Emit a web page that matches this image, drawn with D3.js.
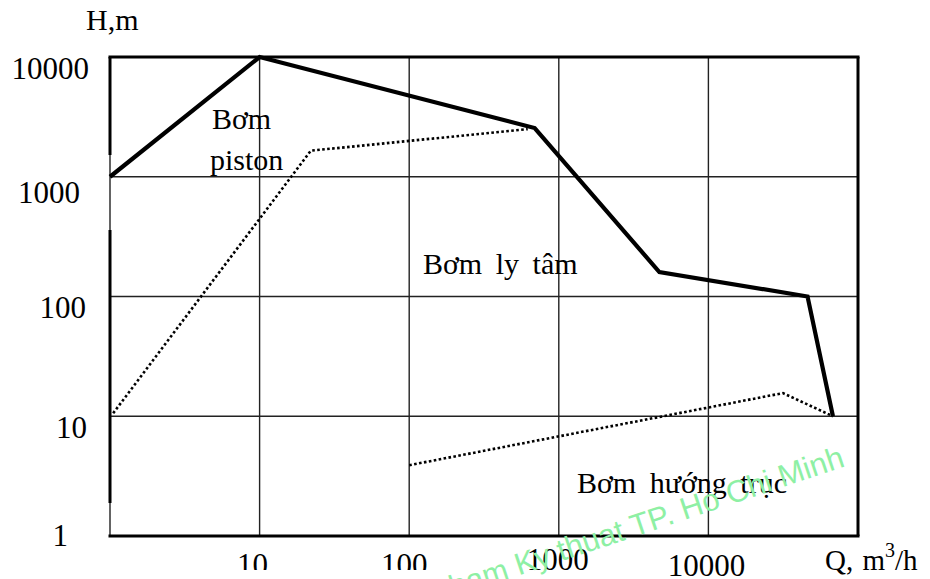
<!DOCTYPE html>
<html>
<head>
<meta charset="utf-8">
<script src="https://cdn.jsdelivr.net/npm/d3@7"></script>
<style>
  body { margin: 0; background: #fff; }
  text { font-family: "Liberation Serif", "Times New Roman", serif; fill: #000; }
</style>
</head>
<body>
<script>
// ticks on both log axes
var qTicks = [10, 100, 1000, 10000];
var hTicks = [1, 10, 100, 1000, 10000];

// outer limit line (solid)
var limitQ = [1, 10, 690, 4700, 46000, 68000];
var limitH = [1000, 10000, 2550, 160, 100, 10];

// piston pump / centrifugal boundary (dotted)
var pistonQ = [1.05, 22, 620];
var pistonH = [10.6, 1650, 2500];

// axial pump / centrifugal boundary (dotted)
var axialQ = [100, 31500, 68000];
var axialH = [3.9, 15.6, 10];

var w = 930;
var h = 579;
var pL = 110, pR = 858, pT = 57, pB = 536;

var svg = d3.select("body")
	.append("svg")
	.attr("width", w)
	.attr("height", h);

var x = d3.scaleLog().domain([1, 1e5]).range([pL, pR]);
var y = d3.scaleLog().domain([1, 1e4]).range([pB, pT]);

// grid
svg.selectAll("line.vgrid")
	.data([1].concat(qTicks))
	.enter()
	.append("line")
	.attr("x1", function(d) { return x(d); })
	.attr("x2", function(d) { return x(d); })
	.attr("y1", pT)
	.attr("y2", pB)
	.attr("stroke", "#222")
	.attr("stroke-width", 1.4);

svg.selectAll("line.hgrid")
	.data([10, 100, 1000])
	.enter()
	.append("line")
	.attr("x1", pL)
	.attr("x2", pR)
	.attr("y1", function(d) { return y(d); })
	.attr("y2", function(d) { return y(d); })
	.attr("stroke", "#222")
	.attr("stroke-width", 1.4);

// frame: top, bottom, right thick; left thick with two breaks
var frame = [
	[pL - 1.5, pT, pR + 1.5, pT],
	[pL - 1.5, pB, pR + 1.5, pB],
	[pR, pT, pR, pB],
	[pL, pT, pL, 155],
	[pL, 230, pL, 503]
];
svg.selectAll("line.frame")
	.data(frame)
	.enter()
	.append("line")
	.attr("x1", function(d) { return d[0]; })
	.attr("y1", function(d) { return d[1]; })
	.attr("x2", function(d) { return d[2]; })
	.attr("y2", function(d) { return d[3]; })
	.attr("stroke", "#000")
	.attr("stroke-width", 3);

var line = d3.line()
	.x(function(d) { return x(d[0]); })
	.y(function(d) { return y(d[1]); });

svg.append("path")
	.datum(d3.zip(limitQ, limitH))
	.attr("d", line)
	.attr("fill", "none")
	.attr("stroke", "#000")
	.attr("stroke-width", 4.2)
	.attr("stroke-linejoin", "miter");

[[pistonQ, pistonH], [axialQ, axialH]].forEach(function(s) {
	svg.append("path")
		.datum(d3.zip(s[0], s[1]))
		.attr("d", line)
		.attr("fill", "none")
		.attr("stroke", "#000")
		.attr("stroke-width", 2.6)
		.attr("stroke-dasharray", "2.6,2.4");
});

// y tick labels (hand nudged like the original drawing)
var yNudge = {10000: [89, 22], 1000: [80, 26], 100: [86, 21], 10: [87, 22], 1: [68, 10]};
svg.selectAll("text.ytick")
	.data(hTicks)
	.enter()
	.append("text")
	.attr("x", function(d) { return yNudge[d][0]; })
	.attr("y", function(d) { return y(d) + yNudge[d][1]; })
	.attr("text-anchor", "end")
	.attr("font-size", 31)
	.text(function(d) { return d; });

// x tick labels, the first two are cut by their box
svg.append("clipPath").attr("id", "cut")
	.append("rect").attr("x", 0).attr("y", 0).attr("width", w).attr("height", 570);

var xDx = {10: -7, 100: -5, 1000: -1, 10000: -2};
var xBase = {10: 575, 100: 575, 1000: 570, 10000: 576};
svg.selectAll("text.xtick")
	.data(qTicks)
	.enter()
	.append("text")
	.attr("x", function(d) { return x(d) + xDx[d]; })
	.attr("y", function(d) { return xBase[d]; })
	.attr("text-anchor", "middle")
	.attr("font-size", 31)
	.attr("clip-path", function(d) { return d < 1000 ? "url(#cut)" : null; })
	.text(function(d) { return d; });

// axis titles
svg.append("text")
	.attr("x", 86).attr("y", 30)
	.attr("font-size", 30)
	.text("H,m");

var qt = svg.append("text")
	.attr("x", 825).attr("y", 570)
	.attr("font-size", 29)
	.attr("word-spacing", 2);
qt.append("tspan").text("Q, m");
qt.append("tspan").attr("dy", -13).attr("font-size", 20).text("3");
qt.append("tspan").attr("dy", 13).text("/h");

// region labels
var labels = [
	{t: "Bơm", x: 212, y: 129},
	{t: "piston", x: 210, y: 170},
	{t: "Bơm ly tâm", x: 423, y: 274},
	{t: "Bơm hướng trục", x: 577, y: 493}
];
svg.selectAll("text.region")
	.data(labels)
	.enter()
	.append("text")
	.attr("x", function(d) { return d.x; })
	.attr("y", function(d) { return d.y; })
	.attr("font-size", 30)
	.attr("word-spacing", 6)
	.text(function(d) { return d.t; });

// watermark
svg.append("text")
	.attr("transform", "translate(846,466) rotate(-18.5)")
	.attr("text-anchor", "end")
	.style("font-family", "'Liberation Sans', Arial, sans-serif")
	.style("fill", "#8ef0a4")
	.attr("font-size", 31)
	.text("Dai hoc Su pham Ky thuat TP. Ho Chi Minh");
</script>
</body>
</html>
